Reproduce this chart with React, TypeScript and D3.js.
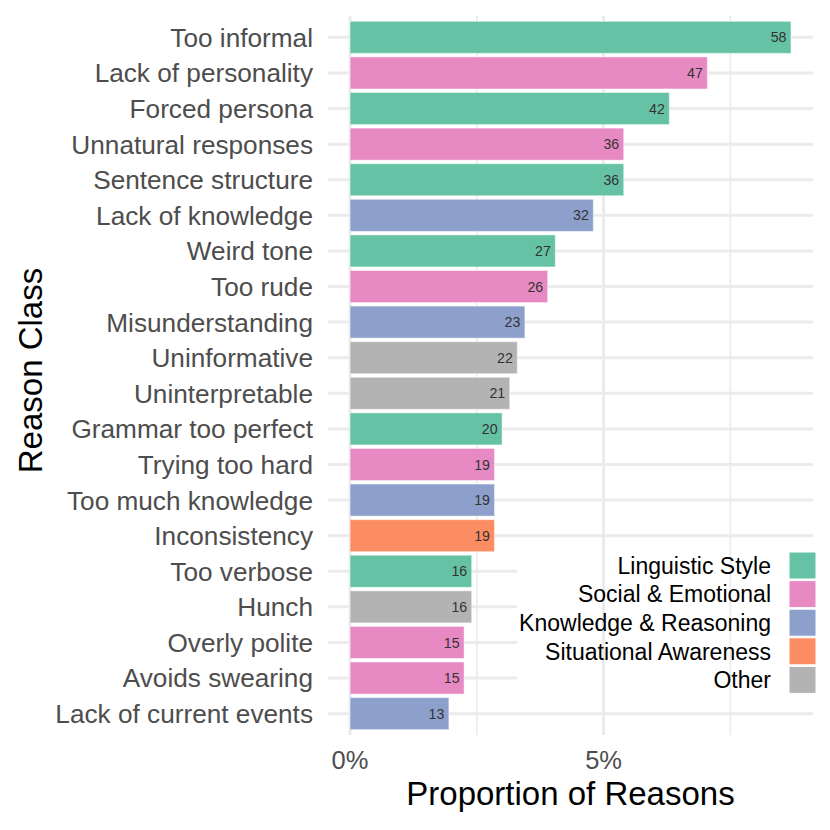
import React from 'react';
import * as d3 from 'd3';

// Reason classes, top to bottom, with counts and their category
const reasons = [
  'Too informal', 'Lack of personality', 'Forced persona', 'Unnatural responses',
  'Sentence structure', 'Lack of knowledge', 'Weird tone', 'Too rude',
  'Misunderstanding', 'Uninformative', 'Uninterpretable', 'Grammar too perfect',
  'Trying too hard', 'Too much knowledge', 'Inconsistency', 'Too verbose',
  'Hunch', 'Overly polite', 'Avoids swearing', 'Lack of current events',
];
const counts = [58, 47, 42, 36, 36, 32, 27, 26, 23, 22, 21, 20, 19, 19, 19, 16, 16, 15, 15, 13];
const reasonGroups = [
  'Linguistic Style', 'Social & Emotional', 'Linguistic Style', 'Social & Emotional',
  'Linguistic Style', 'Knowledge & Reasoning', 'Linguistic Style', 'Social & Emotional',
  'Knowledge & Reasoning', 'Other', 'Other', 'Linguistic Style',
  'Social & Emotional', 'Knowledge & Reasoning', 'Situational Awareness', 'Linguistic Style',
  'Other', 'Social & Emotional', 'Social & Emotional', 'Knowledge & Reasoning',
];
const totalReasons = 667;

const categories = ['Linguistic Style', 'Social & Emotional', 'Knowledge & Reasoning', 'Situational Awareness', 'Other'];
const categoryColors = ['#66C2A5', '#E78AC3', '#8DA0CB', '#FC8D62', '#B3B3B3'];

const majorTicks = [0, 0.05];
const minorTicks = [0.025, 0.075];

const FONT = '"Liberation Sans", Arial, Helvetica, sans-serif';

export default function App() {
  const width = 830;
  const height = 830;
  const panel = { left: 328, right: 813, top: 16, bottom: 735 };

  const rows = reasons.map((r, i) => ({
    reason: r,
    count: counts[i],
    group: reasonGroups[i],
    prop: counts[i] / totalReasons,
  }));

  const maxProp = d3.max(rows, d => d.prop)!;
  const x = d3
    .scaleLinear()
    .domain([-0.05 * maxProp, maxProp * 1.05])
    .range([panel.left, panel.right]);

  const y = d3
    .scalePoint<string>()
    .domain(reasons)
    .range([panel.top, panel.bottom])
    .padding(0.6);
  const barH = y.step() * 0.9;

  const color = d3.scaleOrdinal<string>().domain(categories).range(categoryColors);
  const fmt = d3.format('.0%');

  // legend placement
  const legendStep = 28.6;
  const legendTop = 552;
  const keySize = 27;
  const keyX = 789;

  return (
    <svg
      width={width}
      height={height}
      style={{ position: 'absolute', left: 0, top: 0, background: '#fff' }}
      fontFamily={FONT}
    >
      {/* horizontal gridlines */}
      {reasons.map(r => (
        <line key={r} x1={panel.left} x2={panel.right} y1={y(r)} y2={y(r)} stroke="#EBEBEB" strokeWidth={3} />
      ))}

      {/* legend background hides the row gridlines */}
      <rect x={517} y={548} width={299} height={150} fill="#fff" />

      {/* vertical gridlines */}
      {minorTicks.map(t => (
        <line key={t} x1={x(t)} x2={x(t)} y1={panel.top} y2={panel.bottom} stroke="#EBEBEB" strokeWidth={1.6} />
      ))}
      {majorTicks.map(t => (
        <line key={t} x1={x(t)} x2={x(t)} y1={panel.top} y2={panel.bottom} stroke="#EBEBEB" strokeWidth={3} />
      ))}

      {/* bars */}
      {rows.map(d => (
        <g key={d.reason}>
          <rect
            x={x(0)}
            y={y(d.reason)! - barH / 2}
            width={x(d.prop) - x(0)}
            height={barH}
            fill={color(d.group)}
            stroke="rgba(255,255,255,0.45)"
            strokeWidth={1}
          />
          <text
            x={x(d.prop) - 4.5}
            y={y(d.reason)}
            dy="0.36em"
            textAnchor="end"
            fontSize={14.2}
            fill="#333333"
          >
            {d.count}
          </text>
        </g>
      ))}

      {/* y axis labels */}
      {reasons.map(r => (
        <text key={r} x={313} y={y(r)} dy="0.36em" textAnchor="end" fontSize={26.2} fill="#4D4D4D">
          {r}
        </text>
      ))}

      {/* x axis labels */}
      {majorTicks.map(t => (
        <text key={t} x={x(t)} y={769} textAnchor="middle" fontSize={25.5} fill="#4D4D4D">
          {fmt(t)}
        </text>
      ))}

      {/* axis titles */}
      <text x={(panel.left + panel.right) / 2} y={805} textAnchor="middle" fontSize={33} fill="#000">
        Proportion of Reasons
      </text>
      <text
        transform={`translate(42, ${(panel.top + panel.bottom) / 2 - 5}) rotate(-90)`}
        textAnchor="middle"
        fontSize={33}
        fill="#000"
      >
        Reason Class
      </text>

      {/* legend */}
      {categories.map((c, i) => (
        <g key={c} transform={`translate(0, ${legendTop + i * legendStep})`}>
          <rect x={keyX} y={0} width={keySize} height={keySize} fill={color(c)} stroke="#fff" strokeWidth={1} />
          <text x={771} y={keySize / 2} dy="0.36em" textAnchor="end" fontSize={23} fill="#000">
            {c}
          </text>
        </g>
      ))}
    </svg>
  );
}
